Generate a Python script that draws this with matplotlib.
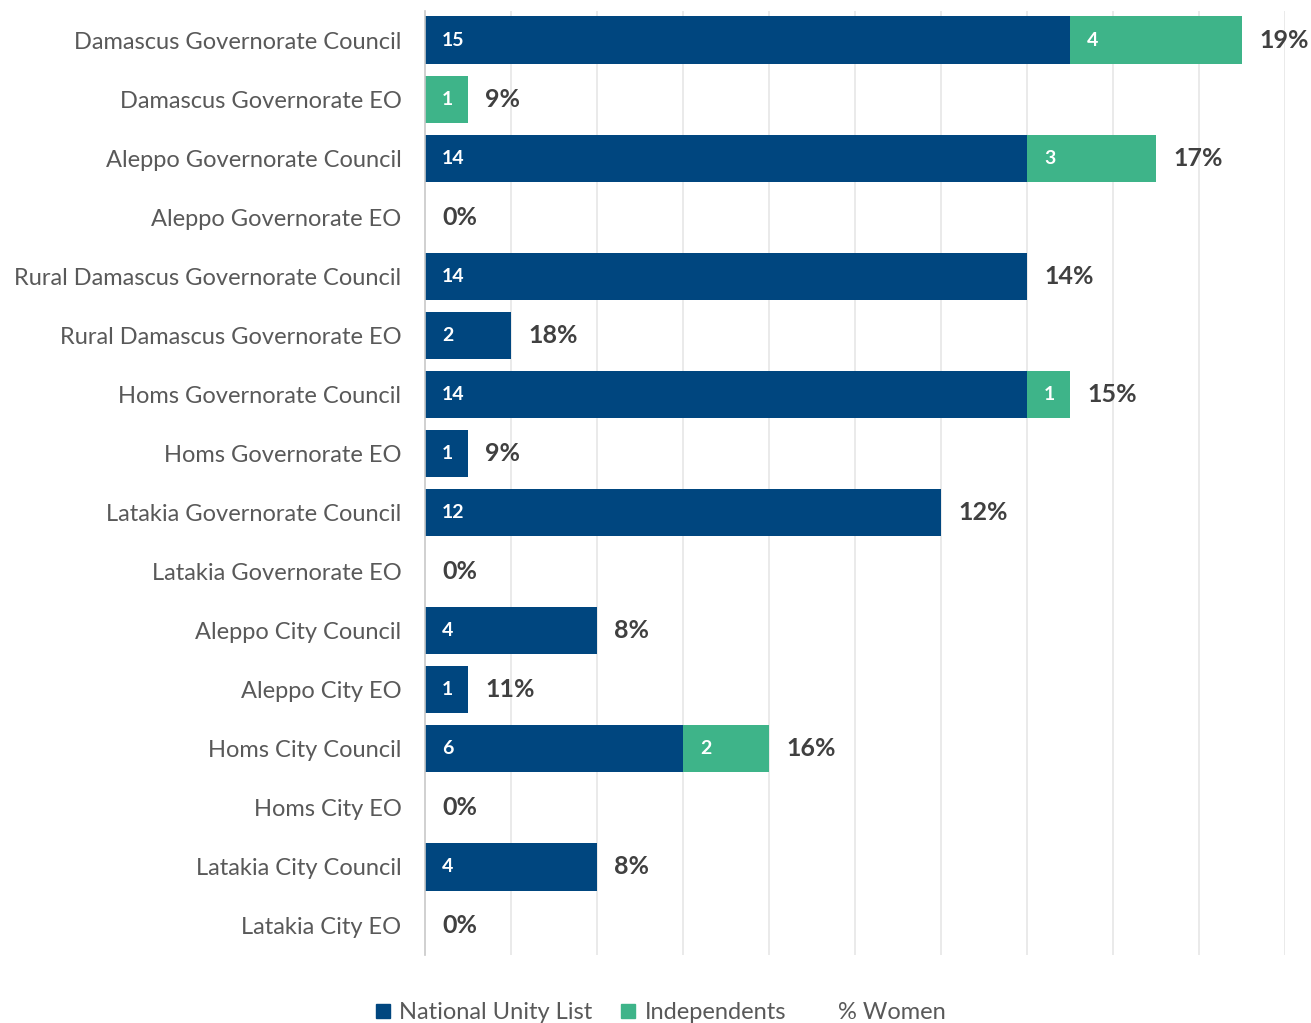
import matplotlib
matplotlib.use('Agg')
import matplotlib.pyplot as plt
from matplotlib.lines import Line2D

plt.rcParams['font.family'] = ['Lato', 'DejaVu Sans']

bodies = [
    'Damascus Governorate Council', 'Damascus Governorate EO',
    'Aleppo Governorate Council', 'Aleppo Governorate EO',
    'Rural Damascus Governorate Council', 'Rural Damascus Governorate EO',
    'Homs Governorate Council', 'Homs Governorate EO',
    'Latakia Governorate Council', 'Latakia Governorate EO',
    'Aleppo City Council', 'Aleppo City EO',
    'Homs City Council', 'Homs City EO',
    'Latakia City Council', 'Latakia City EO',
]
national_unity = [15, 0, 14, 0, 14, 2, 14, 1, 12, 0, 4, 1, 6, 0, 4, 0]
independents = [4, 1, 3, 0, 0, 0, 1, 0, 0, 0, 0, 0, 2, 0, 0, 0]
pct_women = [19, 9, 17, 0, 14, 18, 15, 9, 12, 0, 8, 11, 16, 0, 8, 0]

NAVY = '#00467F'
GREEN = '#3EB489'

fig = plt.figure(figsize=(13.11, 10.23), dpi=100)
ax = fig.add_axes([0.3242, 0.066, 0.656, 0.9237])

y = list(range(len(bodies)))
ax.barh(y, national_unity, height=0.8, color=NAVY, zorder=2)
ax.barh(y, independents, left=national_unity, height=0.8, color=GREEN, zorder=2)

pad = 0.4
for i in y:
    n, ind = national_unity[i], independents[i]
    if n:
        ax.text(pad, i, str(n), color='white', fontsize=14, fontweight='bold',
                va='center', ha='left', zorder=3)
    if ind:
        ax.text(n + pad, i, str(ind), color='white', fontsize=14, fontweight='bold',
                va='center', ha='left', zorder=3)
    ax.text(n + ind + pad, i, f'{pct_women[i]}%', color='#404040', fontsize=18,
            fontweight='bold', va='center', ha='left', zorder=3)

ax.set_xlim(0, 20)
ax.set_ylim(len(bodies) - 0.5, -0.5)
ax.set_xticks(range(2, 21, 2))
ax.tick_params(axis='x', length=0, labelbottom=False)
ax.xaxis.grid(True, color='#E6E6E6', linewidth=1.2, zorder=0)
ax.set_axisbelow(True)

ax.set_yticks(y)
ax.set_yticklabels(bodies, fontsize=17, color='#595959')
ax.tick_params(axis='y', length=0, pad=17)

for side in ['top', 'right', 'bottom']:
    ax.spines[side].set_visible(False)
ax.spines['left'].set_color('#C8C8C8')
ax.spines['left'].set_linewidth(1.2)

handles = [
    Line2D([], [], marker='s', linestyle='none', color=NAVY, markersize=10),
    Line2D([], [], marker='s', linestyle='none', color=GREEN, markersize=10),
    Line2D([], [], linestyle='none'),
]
fig.legend(handles, ['National Unity List', 'Independents', '% Women'],
           loc='center', bbox_to_anchor=(0.503, 0.010), ncol=3, frameon=False,
           fontsize=17, labelcolor='#595959', handlelength=0.8,
           handletextpad=0.3, columnspacing=1.1)

fig.savefig('out.png', dpi=100)
